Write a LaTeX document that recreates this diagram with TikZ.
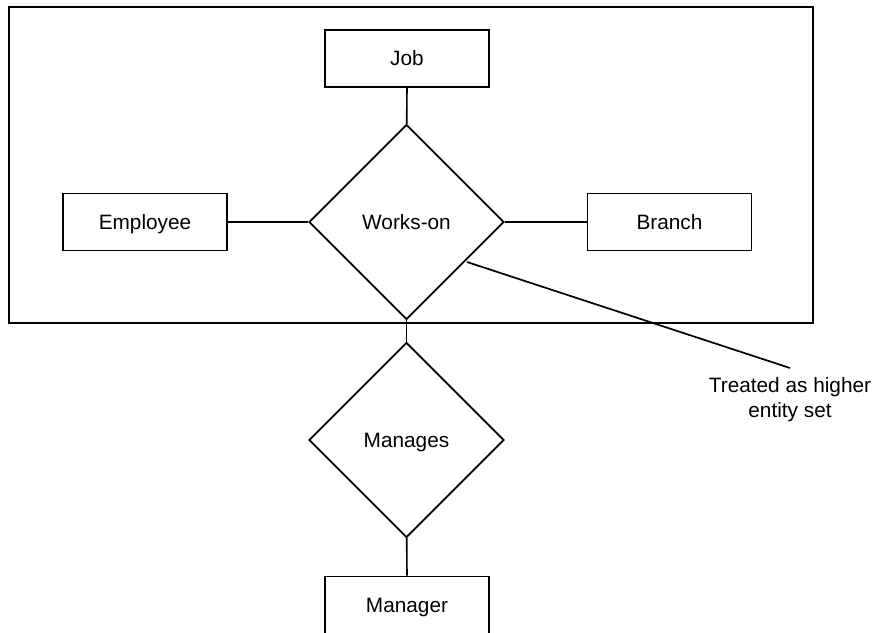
\documentclass[tikz,border=0pt]{standalone}
\usepackage{fontspec}
\setmainfont{Liberation Sans}
\usetikzlibrary{shapes.geometric, positioning}

\begin{document}
\begin{tikzpicture}[
    x=0.5pt, y=-0.5pt,
    line width=0.85pt,
    entitynode/.style={draw, rectangle, minimum width=82pt,
        minimum height=28.5pt, inner sep=0pt,
        text height=7.45pt, text depth=0pt,
        font=\fontsize{10.4}{12.5}\selectfont},
    relnode/.style={draw, diamond, aspect=1, minimum width=97.5pt,
        minimum height=97.5pt, inner sep=0pt,
        text height=7.45pt, text depth=0pt,
        font=\fontsize{10.4}{12.5}\selectfont},
    notenode/.style={align=center, inner sep=0pt,
        font=\fontsize{10.4}{12.5}\selectfont}
]
\useasboundingbox (0,0) rectangle (876,632);

% aggregation frame
\draw (9,7) rectangle (813,323);

\node[relnode] (workson) at (406.5,222) {Works-on};
\node[entitynode] (job) at (407,58.5) {Job};
\node[entitynode] (employee) at (145,222) {Employee};
\node[entitynode] (branch) at (669.5,222) {Branch};

\node[relnode] (manages) at (406.5,440) {Manages};
\node[entitynode] (manager) at (407,605) {Manager};

\node[notenode] (note) at (790,400) {Treated as higher\\entity set};
\coordinate (tip) at (790,368);

\draw (job) -- (workson);
\draw (employee) -- (workson);
\draw (workson) -- (branch);
\draw (workson) -- (manages);
\draw (manages) -- (manager);
\draw (467,262) -- (tip);
\end{tikzpicture}
\end{document}
